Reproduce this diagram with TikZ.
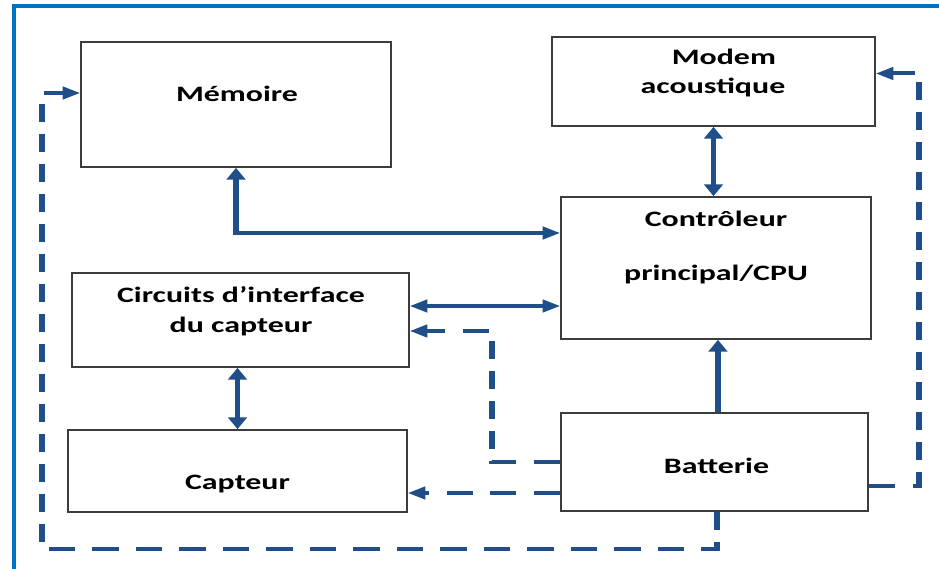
\documentclass[tikz,border=0pt]{standalone}
\usepackage{fontspec}
\setmainfont{Carlito}
\usetikzlibrary{arrows.meta}
\definecolor{framblue}{RGB}{0,112,192}
\definecolor{linkblue}{RGB}{32,78,137}
\definecolor{boxgray}{RGB}{60,60,60}
% box from its corners (x1,y1)-(x2,y2), in page pixels
\newcommand\mkbox[5]{\node[blk, minimum width={(#4-#2)/1.45}, minimum height={#5-#3}] (#1) at ({(#2+#4)/2},{(#3+#5)/2}) {};}
\begin{document}
\begin{tikzpicture}[x=1pt,y=-1pt]
\useasboundingbox (0,0) rectangle (939,569);
\fill[white] (0,0) rectangle (939,569);
% frame on the left and top
\draw[framblue, line width=3.5pt] (14,571) -- (14,6) -- (941,6);
\begin{scope}[transform canvas={xscale=1.45}, x=0.689655pt, y=-1pt,
  blk/.style={draw=boxgray, line width=1.4pt, fill=white, inner sep=0pt},
  lbl/.style={font=\fontsize{22}{30}\selectfont\bfseries, align=center, anchor=base, inner sep=0pt},
  link/.style={draw=linkblue, line width=4pt},
  dlink/.style={link, dash pattern=on 18pt off 12pt},
  >={Triangle[length=12pt,width=12.5pt]}]
  % blocks
  \mkbox{mem}{81}{42}{391}{167}
  \mkbox{modem}{552}{37}{875}{126}
  \mkbox{cpu}{561}{197}{871}{339}
  \mkbox{circ}{72}{273}{409}{367}
  \mkbox{cap}{68}{430}{407}{512}
  \mkbox{batt}{561}{413}{868}{511}
  % labels
  \node[lbl] (memtxt) at (237,102) {Mémoire};
  \node[lbl] (modemtxt) at (713,94) {\hspace*{15pt}Modem\\[-1pt]acoustique};
  \node[lbl] (cputxt) at (716,280) {Contrôleur\\[24pt]principal/CPU};
  \node[lbl] (circtxt) at (241,332) {Circuits d’interface\\du capteur};
  \node[lbl] (captxt) at (237.5,489) {Capteur};
  \node[lbl] (batttxt) at (716.5,473) {Batterie};
  % data links
  \coordinate (m1) at ([yshift=35pt]cpu.west);
  \draw[link,<->] (mem.south) |- (m1);
  \coordinate (c1) at ([yshift=14pt]circ.east);
  \draw[link,<->] (c1) -- (c1 -| cpu.west);
  \draw[link,<->] (modem.south) -- (modem.south |- cpu.north);
  \coordinate (b1) at ([xshift=2.4pt]batt.north);
  \draw[link,->] (b1) -- (b1 |- cpu.south);
  \draw[link,<->] (cap.north) -- (cap.north |- circ.south);
  % power links
  \draw[dlink,->] (batt.west) -- ++(-68,0) |- ([yshift=-11pt]circ.east);
  \coordinate (b2) at ([yshift=-31pt]batt.west);
  \draw[dlink,->] (b2) -- (b2 -| cap.east);
  \draw[dlink,->] ([yshift=-24pt]batt.east) -- ++(50,0) |- ([yshift=8pt]modem.east);
  \draw[dlink,->] ([xshift=1.7pt]batt.south) |- (42,549) |- ([yshift=11.5pt]mem.west);
\end{scope}
\end{tikzpicture}
\end{document}
